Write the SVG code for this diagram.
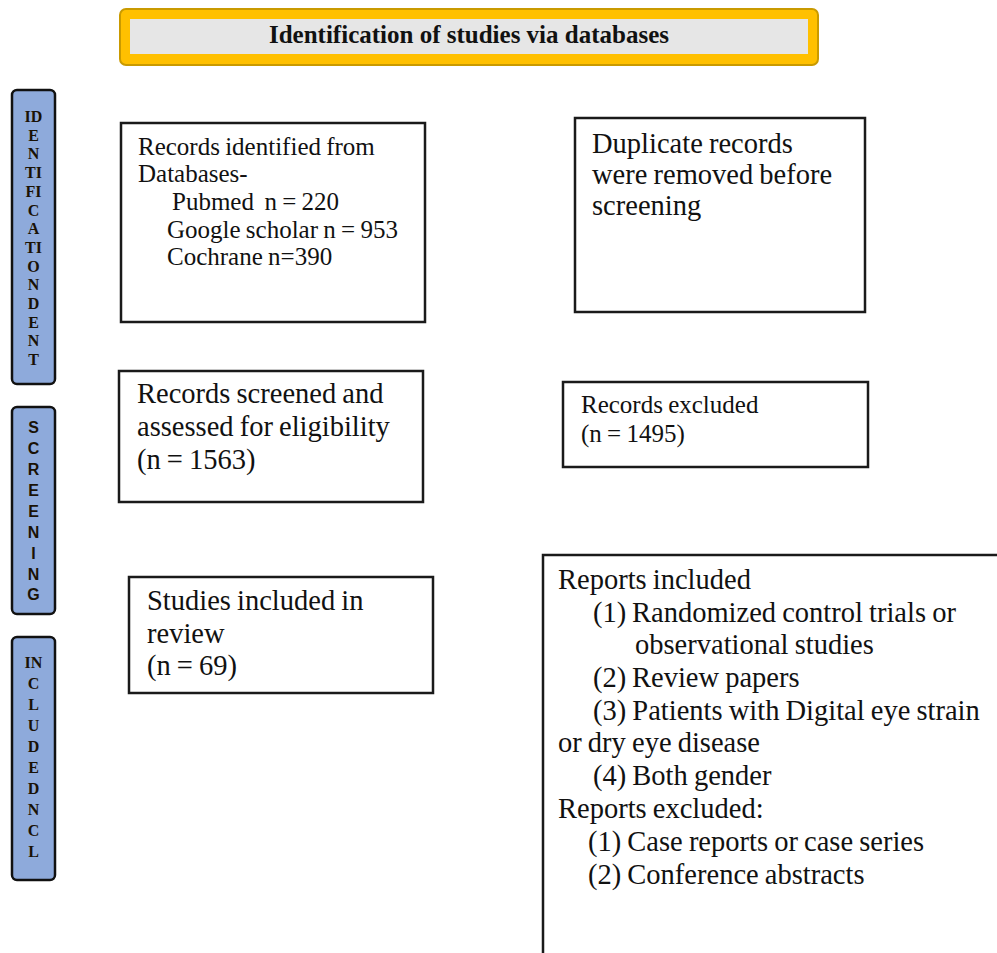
<svg xmlns="http://www.w3.org/2000/svg" width="997" height="953" viewBox="0 0 997 953">
<style>
.box{fill:#fff;stroke:#1a1a1a;stroke-width:2.5}
.bar{fill:#8eaadb;stroke:#111;stroke-width:2.5}
.t{font-family:"Liberation Serif","Times New Roman",serif;fill:#111;word-spacing:-1px}
.s24{font-size:25px}
.s28{font-size:28.5px}
.bl{font-family:"Liberation Serif","Times New Roman",serif;font-weight:bold;font-size:16px;fill:#1a1206;text-anchor:middle}
.bs{font-family:"Liberation Sans",Arial,sans-serif;font-weight:bold;font-size:16px;fill:#1a1206;text-anchor:middle}
</style>
<rect width="997" height="953" fill="#fff"/>
<g id="header">
<rect x="120" y="9" width="698" height="56" rx="6" fill="#ffc000" stroke="#c99a00" stroke-width="2"/>
<rect x="130" y="19" width="678" height="35" fill="#e6e6e6"/>
<text x="469" y="43" text-anchor="middle" style="font-family:'Liberation Serif','Times New Roman',serif;font-weight:bold;font-size:25px;fill:#111">Identification of studies via databases</text>
</g>
<g id="bar-identification">
<rect class="bar" x="12" y="90" width="43" height="294" rx="5"/>
<text class="bl" x="33.5" y="122">ID</text>
<text class="bl" x="33.5" y="140.7">E</text>
<text class="bl" x="33.5" y="159.4">N</text>
<text class="bl" x="33.5" y="178.1">TI</text>
<text class="bl" x="33.5" y="196.8">FI</text>
<text class="bl" x="33.5" y="215.5">C</text>
<text class="bl" x="33.5" y="234.2">A</text>
<text class="bl" x="33.5" y="252.9">TI</text>
<text class="bl" x="33.5" y="271.6">O</text>
<text class="bl" x="33.5" y="290.3">N</text>
<text class="bl" x="33.5" y="309">D</text>
<text class="bl" x="33.5" y="327.7">E</text>
<text class="bl" x="33.5" y="346.4">N</text>
<text class="bl" x="33.5" y="365">T</text>
</g>
<g id="bar-screening">
<rect class="bar" x="12" y="407" width="43" height="207" rx="5"/>
<text class="bs" x="33.5" y="433">S</text>
<text class="bs" x="33.5" y="454">C</text>
<text class="bs" x="33.5" y="475">R</text>
<text class="bs" x="33.5" y="496">E</text>
<text class="bs" x="33.5" y="517">E</text>
<text class="bs" x="33.5" y="538">N</text>
<text class="bs" x="33.5" y="559">I</text>
<text class="bs" x="33.5" y="580">N</text>
<text class="bs" x="33.5" y="600">G</text>
</g>
<g id="bar-included">
<rect class="bar" x="12" y="637" width="43" height="243" rx="5"/>
<text class="bl" x="33.5" y="668">IN</text>
<text class="bl" x="33.5" y="689">C</text>
<text class="bl" x="33.5" y="710">L</text>
<text class="bl" x="33.5" y="731">U</text>
<text class="bl" x="33.5" y="752">D</text>
<text class="bl" x="33.5" y="773">E</text>
<text class="bl" x="33.5" y="794">D</text>
<text class="bl" x="33.5" y="815">N</text>
<text class="bl" x="33.5" y="836">C</text>
<text class="bl" x="33.5" y="857">L</text>
</g>
<g id="records-identified">
<rect class="box" x="121" y="123" width="304" height="199"/>
<text class="t s24" x="138" y="155">Records identified from</text>
<text class="t s24" x="138" y="182">Databases-</text>
<text class="t s24" x="172" y="210" style="white-space:pre">Pubmed  n = 220</text>
<text class="t s24" x="167" y="238">Google scholar n = 953</text>
<text class="t s24" x="167" y="265">Cochrane n=390</text>
</g>
<g id="duplicates">
<rect class="box" x="575" y="118" width="290" height="194"/>
<text class="t s28" x="592" y="153">Duplicate records</text>
<text class="t s28" x="592" y="184">were removed before</text>
<text class="t s28" x="592" y="215">screening</text>
</g>
<g id="records-screened">
<rect class="box" x="119" y="371" width="304" height="131"/>
<text class="t s28" x="137" y="403">Records screened and</text>
<text class="t s28" x="137" y="436">assessed for eligibility</text>
<text class="t s28" x="137" y="469">(n = 1563)</text>
</g>
<g id="records-excluded">
<rect class="box" x="563" y="382" width="305" height="85"/>
<text class="t s24" x="581" y="413">Records excluded</text>
<text class="t s24" x="581" y="442">(n = 1495)</text>
</g>
<g id="studies-included">
<rect class="box" x="129" y="577" width="304" height="116"/>
<text class="t s28" x="147" y="610">Studies included in</text>
<text class="t s28" x="147" y="643">review</text>
<text class="t s28" x="147" y="675">(n = 69)</text>
</g>
<g id="criteria">
<rect class="box" x="543" y="555" width="470" height="420"/>
<text class="t s28" x="558" y="589">Reports included</text>
<text class="t s28" x="593" y="622">(1)</text>
<text class="t s28" x="632" y="622">Randomized control trials or</text>
<text class="t s28" x="635" y="654">observational studies</text>
<text class="t s28" x="593" y="687">(2)</text>
<text class="t s28" x="632" y="687">Review papers</text>
<text class="t s28" x="593" y="720">(3) Patients with Digital eye strain</text>
<text class="t s28" x="558" y="752">or dry eye disease</text>
<text class="t s28" x="593" y="785">(4) Both gender</text>
<text class="t s28" x="558" y="818">Reports excluded:</text>
<text class="t s28" x="588" y="851">(1) Case reports or case series</text>
<text class="t s28" x="588" y="884">(2) Conference abstracts</text>
</g>
<g id="connectors"></g>
</svg>
